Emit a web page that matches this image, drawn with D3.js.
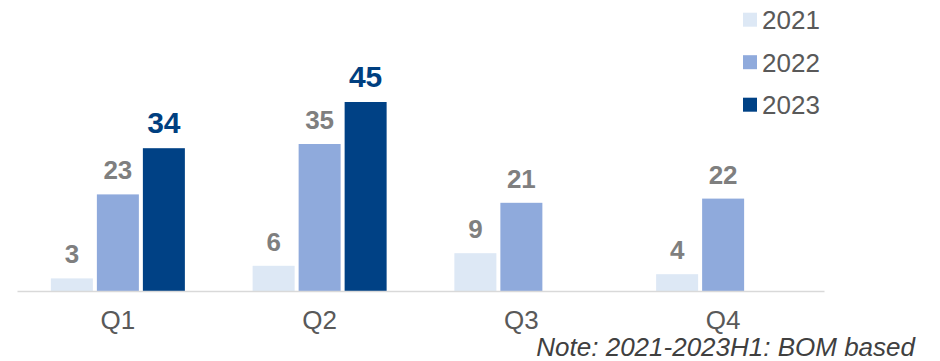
<!DOCTYPE html>
<html>
<head>
<meta charset="utf-8">
<script src="https://cdn.jsdelivr.net/npm/d3@7"></script>
<style>
  html, body { margin: 0; padding: 0; background: #fff; }
  svg { display: block; font-family: "Liberation Sans", Arial, sans-serif; }
</style>
</head>
<body>
<div id="chart"></div>
<script>
const quarters = ["Q1", "Q2", "Q3", "Q4"];
const years = ["2021", "2022", "2023"];
const values2021 = [3, 6, 9, 4];
const values2022 = [23, 35, 21, 22];
const values2023 = [34, 45, null, null];
const colors = ["#dde8f5", "#8faadc", "#004185"];
const noteText = "Note: 2021-2023H1: BOM based";

const width = 940;
const height = 361;
const baseY = 291;

const seriesValues = [values2021, values2022, values2023];
const data = quarters.map((q, i) => ({
  quarter: q,
  bars: years.map((y, j) => ({ year: y, idx: j, value: seriesValues[j][i] }))
    .filter(d => d.value != null)
}));

const svg = d3.select("#chart")
  .append("svg")
  .attr("width", width)
  .attr("height", height);

const x0 = d3.scaleBand()
  .domain(quarters)
  .range([17, 824])
  .padding(0);

const groupW = 134;
const x1 = d3.scaleBand()
  .domain(years)
  .range([x0.bandwidth() / 2 - groupW / 2, x0.bandwidth() / 2 + groupW / 2])
  .paddingInner(4 / 46)
  .paddingOuter(0);

const y = d3.scaleLinear()
  .domain([0, 45])
  .range([baseY, 102]);

const groups = svg.append("g")
  .selectAll("g")
  .data(data)
  .enter()
  .append("g")
  .attr("transform", d => `translate(${x0(d.quarter)},0)`);

groups.selectAll("rect")
  .data(d => d.bars)
  .enter()
  .append("rect")
  .attr("x", d => x1(d.year))
  .attr("y", d => y(d.value))
  .attr("width", x1.bandwidth())
  .attr("height", d => baseY - y(d.value))
  .attr("fill", d => colors[d.idx]);

groups.selectAll("text")
  .data(d => d.bars)
  .enter()
  .append("text")
  .attr("x", d => x1(d.year) + x1.bandwidth() / 2)
  .attr("y", d => y(d.value) - 15)
  .attr("text-anchor", "middle")
  .attr("font-weight", "bold")
  .attr("font-size", d => d.idx === 2 ? 30 : 26)
  .attr("fill", d => d.idx === 2 ? "#003f80" : "#7f7f7f")
  .text(d => d.value);

// baseline axis
const xAxis = d3.axisBottom(x0).tickSize(0).tickPadding(20);
const axisG = svg.append("g")
  .attr("transform", `translate(0,${baseY})`)
  .call(xAxis);
axisG.select(".domain").attr("stroke", "#d9d9d9").attr("stroke-width", 1.5);
axisG.selectAll("text")
  .attr("font-size", 26)
  .attr("fill", "#595959")
  .attr("font-family", "Liberation Sans, Arial, sans-serif");

// legend
const legend = svg.append("g")
  .selectAll("g")
  .data(years)
  .enter()
  .append("g")
  .attr("transform", (d, i) => `translate(743,${12.7 + i * 42.5})`);

legend.append("rect")
  .attr("width", 14)
  .attr("height", 14)
  .attr("fill", (d, i) => colors[i]);

legend.append("text")
  .attr("x", 19)
  .attr("y", 16.5)
  .attr("font-size", 26)
  .attr("fill", "#595959")
  .text(d => d);

svg.append("text")
  .attr("x", 915)
  .attr("y", 355.5)
  .attr("text-anchor", "end")
  .attr("font-size", 26)
  .attr("font-style", "italic")
  .attr("fill", "#404040")
  .text(noteText);
</script>
</body>
</html>
